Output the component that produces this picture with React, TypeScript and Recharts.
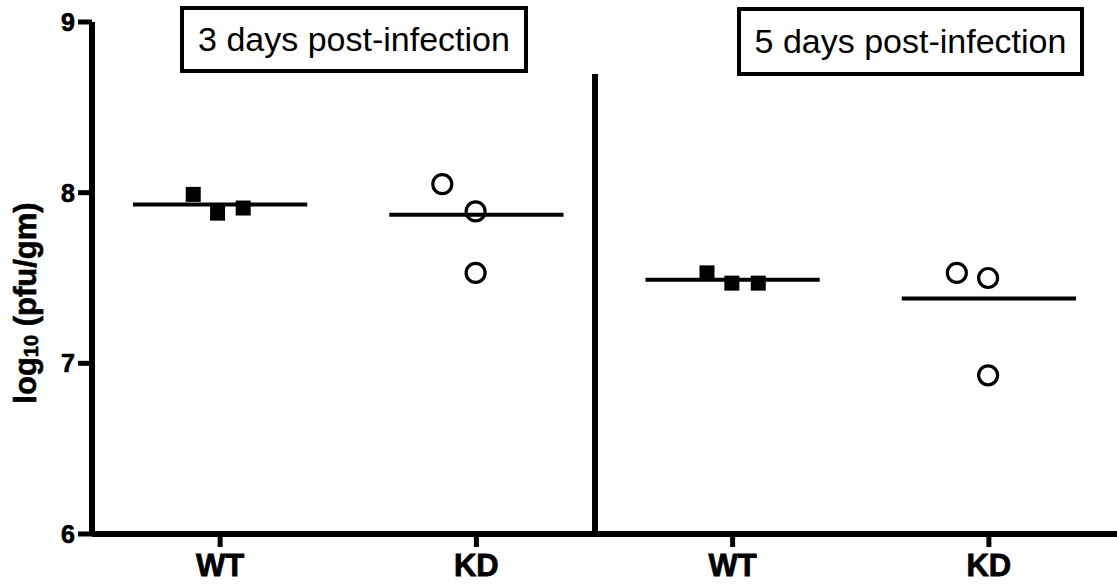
import { ReferenceLine, Scatter, ScatterChart, XAxis, YAxis } from "recharts";

const CATEGORIES = ["WT", "KD", "WT", "KD"];
const Y_TICKS = [6, 7, 8, 9];
const PANEL_TITLES = ["3 days post-infection", "5 days post-infection"];

// x = group position (1..4) plus the small sideways scatter of the original
const WT_3D = [
    { x: 0.895, y: 7.99 },
    { x: 0.99, y: 7.88 },
    { x: 1.09, y: 7.91 },
];
const KD_3D = [
    { x: 1.867, y: 8.05 },
    { x: 1.997, y: 7.89 },
    { x: 1.997, y: 7.53 },
];
const WT_5D = [
    { x: 2.9, y: 7.53 },
    { x: 2.997, y: 7.47 },
    { x: 3.1, y: 7.47 },
];
const KD_5D = [
    { x: 3.875, y: 7.53 },
    { x: 3.997, y: 7.5 },
    { x: 3.997, y: 6.93 },
];
const GROUP_MEANS = [7.93, 7.87, 7.49, 7.38];
const MEAN_HALF_WIDTH = 0.34;
const DIVIDER_X = 2.463;
const DIVIDER_TOP = 8.695;

const SANS = "'Liberation Sans', Arial, Helvetica, sans-serif";

const FilledSquare = (props: any) => {
    const { cx, cy } = props;
    return <rect x={cx - 7.5} y={cy - 7.5} width={15} height={15} fill="#000" />;
};

const OpenCircle = (props: any) => {
    const { cx, cy } = props;
    return <circle cx={cx} cy={cy} r={9.5} fill="none" stroke="#000" strokeWidth={3.2} />;
};

// the original's labels are a heavier bold than Liberation Sans Bold, a thin stroke thickens them
const XTick = (props: any) => {
    const { x, y, payload } = props;
    return (
        <text
            x={x}
            y={y + 25}
            textAnchor="middle"
            fontFamily={SANS}
            fontWeight="bold"
            fontSize={31}
            fill="#000"
            stroke="#000"
            strokeWidth={0.8}
        >
            {CATEGORIES[payload.value - 1]}
        </text>
    );
};

const YTick = (props: any) => {
    const { x, y, payload } = props;
    return (
        <text
            x={x}
            y={y + 9}
            textAnchor="end"
            fontFamily={SANS}
            fontWeight="bold"
            fontSize={25}
            fill="#000"
            stroke="#000"
            strokeWidth={0.7}
        >
            {payload.value}
        </text>
    );
};

const YTitle = () => (
    <text
        x={25}
        y={303}
        transform="rotate(-90 25 303)"
        textAnchor="middle"
        dominantBaseline="central"
        fontFamily={SANS}
        fontWeight="bold"
        fontSize={31}
        fill="#000"
        stroke="#000"
        strokeWidth={0.6}
    >
        log
        <tspan fontSize={20} dy={6}>
            10
        </tspan>
        <tspan dy={-6}> (pfu/gm)</tspan>
    </text>
);

const titleBox = (left: number, top: number, width: number, height: number) => ({
    position: "absolute" as const,
    left,
    top,
    width,
    height,
    boxSizing: "border-box" as const,
    border: "4px solid #000",
    background: "#fff",
    display: "flex",
    alignItems: "center",
    justifyContent: "center",
    fontFamily: SANS,
    fontSize: 34,
    color: "#000",
});

export default function App() {
    const groups = [WT_3D, KD_3D, WT_5D, KD_5D];
    return (
        <div style={{ position: "absolute", left: 0, top: 0, width: 1117, height: 587, background: "#fff" }}>
            <ScatterChart width={1117} height={587} margin={{ top: 22, right: 0, bottom: 0, left: 0 }}>
                <XAxis
                    type="number"
                    dataKey="x"
                    domain={[0.5, 4.5]}
                    ticks={[1, 2, 3, 4]}
                    axisLine={{ stroke: "#000", strokeWidth: 6 }}
                    tickLine={{ stroke: "#000", strokeWidth: 5 }}
                    tickSize={13}
                    tickMargin={4}
                    height={53}
                    tick={<XTick />}
                    allowDataOverflow
                />
                <YAxis
                    type="number"
                    dataKey="y"
                    domain={[6, 9]}
                    ticks={Y_TICKS}
                    width={92}
                    axisLine={{ stroke: "#000", strokeWidth: 6 }}
                    tickLine={{ stroke: "#000", strokeWidth: 5 }}
                    tickSize={14}
                    tickMargin={3}
                    tick={<YTick />}
                    label={<YTitle />}
                    allowDataOverflow
                />
                {GROUP_MEANS.map((m, i) => (
                    <ReferenceLine
                        key={`mean-${i}`}
                        segment={[
                            { x: i + 1 - MEAN_HALF_WIDTH, y: m },
                            { x: i + 1 + MEAN_HALF_WIDTH, y: m },
                        ]}
                        stroke="#000"
                        strokeWidth={4}
                    />
                ))}
                <ReferenceLine
                    segment={[
                        { x: DIVIDER_X, y: 6 },
                        { x: DIVIDER_X, y: DIVIDER_TOP },
                    ]}
                    stroke="#000"
                    strokeWidth={6}
                />
                {groups.map((g, i) => (
                    <Scatter
                        key={`grp-${i}`}
                        data={g}
                        shape={i % 2 === 0 ? FilledSquare : OpenCircle}
                        isAnimationActive={false}
                    />
                ))}
            </ScatterChart>
            <div style={titleBox(180, 6, 348, 67)}>{PANEL_TITLES[0]}</div>
            <div style={titleBox(737, 7, 347, 69)}>{PANEL_TITLES[1]}</div>
        </div>
    );
}
